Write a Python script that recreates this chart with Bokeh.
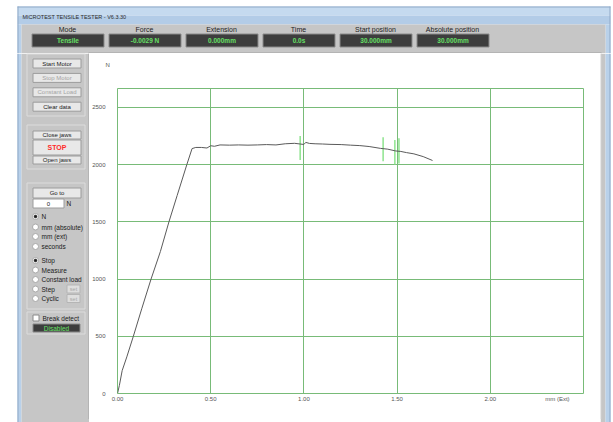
from bokeh.plotting import figure
from bokeh.layouts import column, row
from bokeh.models import Range1d, FixedTicker
from bokeh.core.properties import value
from bokeh.embed import file_html
from bokeh.resources import INLINE

# ---------------- data ----------------
ext_mm = [0.0, 0.01, 0.025, 0.05, 0.085, 0.13, 0.18, 0.23, 0.276, 0.32, 0.372, 0.40,
          0.42, 0.45, 0.48, 0.50, 0.52, 0.55, 0.60, 0.65, 0.70, 0.75, 0.80, 0.85,
          0.90, 0.95, 0.99, 1.00, 1.01, 1.03, 1.06, 1.10, 1.14, 1.20, 1.25, 1.30,
          1.35, 1.41, 1.45, 1.49, 1.50, 1.52, 1.55, 1.59, 1.64, 1.69]
force_n = [0, 70, 200, 320, 500, 740, 1000, 1240, 1500, 1730, 2000, 2140,
           2150, 2150, 2145, 2165, 2160, 2172, 2170, 2172, 2170, 2172, 2175, 2172,
           2182, 2186, 2178, 2176, 2194, 2185, 2182, 2180, 2177, 2175, 2170, 2166,
           2158, 2142, 2135, 2120, 2118, 2115, 2105, 2094, 2070, 2036]
marker_x = [0.98, 1.425, 1.488, 1.51]
marker_lo = [2040, 2030, 2000, 2010]
marker_hi = [2250, 2240, 2215, 2230]

grid_x = [0.5, 1.0, 1.5, 2.0]
grid_y = [500, 1000, 1500, 2000, 2500]
x_ticks = [0, 0.5, 1.0, 1.5, 2.0, 2.36]
x_tick_labels = ["0.00", "0.50", "1.00", "1.50", "2.00", "mm (Ext)"]
y_ticks = [0, 500, 1000, 1500, 2000, 2500]
y_tick_labels = ["0", "500", "1000", "1500", "2000", "2500"]
y_unit = "N"

window_title = "MICROTEST TENSILE TESTER - V6.3.30"
header_labels = ["Mode", "Force", "Extension", "Time", "Start position", "Absolute position"]
header_values = ["Tensile", "-0.0029 N", "0.000mm", "0.0s", "30.000mm", "30.000mm"]
motor_buttons = ["Start Motor", "Stop Motor", "Constant Load", "Clear data"]
motor_enabled = [True, False, False, True]
jaw_buttons = ["Close jaws", "STOP", "Open jaws"]
unit_options = ["N", "mm (absolute)", "mm (ext)", "seconds"]
mode_options = ["Stop", "Measure", "Constant load", "Step", "Cyclic"]

# ---------------- styles ----------------
FONT = "Liberation Sans"
GREEN = "#78bb78"
GRAY = "#c6c6c6"
BLUE = "#b9d1ea"
BTN = "#e8e8e8"
BTN_EDGE = "#9c9c9c"
GROUP_EDGE = "#dcdcdc"
LCD = "#3d3d3d"
LCD_TEXT = "#66e066"


def no_align(f):
    try:
        f.frame_align = False
    except Exception:
        pass


def chrome(w, h, x0, x1, y0, y1):
    f = figure(width=w, height=h, x_range=Range1d(x0, x1), y_range=Range1d(y1, y0),
               output_backend="svg", toolbar_location=None,
               x_axis_location=None, y_axis_location=None,
               min_border=0, min_border_left=0, min_border_right=0,
               min_border_top=0, min_border_bottom=0)
    f.outline_line_color = None
    f.background_fill_color = "white"
    f.border_fill_color = "white"
    f.grid.visible = False
    no_align(f)
    return f


def rect(f, l, t, r, b, fill=None, line=None, lw=1):
    f.quad(left=[l], right=[r], top=[t], bottom=[b],
           fill_color=fill, fill_alpha=1 if fill else 0,
           line_color=line, line_alpha=1 if line else 0, line_width=lw)


def txt(f, x, y, s, size="6.5px", color="#1a1a1a", align="left", bold=False):
    f.text(x=[x], y=[y], text=[s], text_font=value(FONT), text_font_size=value(size),
           text_color=color, text_align=align, text_baseline="middle",
           text_font_style="bold" if bold else "normal")


def hline(f, x0, x1, y, color, lw=1):
    f.segment(x0=[x0], y0=[y], x1=[x1], y1=[y], line_color=color, line_width=lw)


def vline(f, x, y0, y1, color, lw=1):
    f.segment(x0=[x], y0=[y0], x1=[x], y1=[y1], line_color=color, line_width=lw)


# ---------------- header (window title + readouts) ----------------
hdr = chrome(613, 53, 0, 613, 0, 53)
rect(hdr, 17, 6, 610, 15, fill="#c5daef")
rect(hdr, 17, 15, 610, 24, fill="#b3cce7")
hline(hdr, 17, 610, 6.5, "#8fa9c7")
rect(hdr, 17, 24, 21, 53, fill=BLUE)
vline(hdr, 17.5, 6, 53, "#8fa9c7")
rect(hdr, 605, 24, 610, 53, fill=BLUE)
vline(hdr, 609.5, 6, 53, "#8fa9c7")
rect(hdr, 21, 24, 605, 53, fill=GRAY)
hline(hdr, 88, 601, 52.5, "#a2a2a2")
txt(hdr, 22, 16, window_title, size="5.5px", color="#2a2a2a")
for i, (lab, val) in enumerate(zip(header_labels, header_values)):
    x0 = 31 + 77 * i
    txt(hdr, x0 + 36, 28.5, lab, size="7px", color="#1e1e1e", align="center")
    rect(hdr, x0 + 0.5, 33.5, x0 + 72.5, 46.5, fill=LCD, line="#8a8a8a")
    txt(hdr, x0 + 36.5, 40, val, size="6.5px", color=LCD_TEXT, align="center", bold=True)

# ---------------- left control panel ----------------
lp = chrome(89, 369, 0, 89, 53, 422)
rect(lp, 17, 53, 21, 422, fill=BLUE)
vline(lp, 17.5, 53, 422, "#8fa9c7")
rect(lp, 21, 53, 89, 422, fill=GRAY)
vline(lp, 88.5, 52.5, 418.5, "#a2a2a2")

rect(lp, 26.5, 53.5, 84.5, 115.5, line=GROUP_EDGE)
for i, (lab, en) in enumerate(zip(motor_buttons, motor_enabled)):
    t = 58 + 14.4 * i
    rect(lp, 32.5, t + 0.5, 80.5, t + 9.5, fill=BTN, line=BTN_EDGE)
    txt(lp, 56.5, t + 5, lab, size="6px", color="#1a1a1a" if en else "#a4a4a4", align="center")

rect(lp, 26.5, 124.5, 84.5, 168.5, line=GROUP_EDGE)
rect(lp, 32.5, 130.5, 80.5, 138.5, fill=BTN, line=BTN_EDGE)
txt(lp, 56.5, 134.5, jaw_buttons[0], size="6px", align="center")
rect(lp, 32.5, 139.5, 80.5, 154.5, fill=BTN, line=BTN_EDGE)
txt(lp, 56.5, 147, jaw_buttons[1], size="7px", color="#ff2a2a", align="center", bold=True)
rect(lp, 32.5, 155.5, 80.5, 163.5, fill=BTN, line=BTN_EDGE)
txt(lp, 56.5, 159.5, jaw_buttons[2], size="6px", align="center")

rect(lp, 26.5, 182.5, 84.5, 308.5, line=GROUP_EDGE)
rect(lp, 32.5, 187.5, 80.5, 197.5, fill=BTN, line=BTN_EDGE)
txt(lp, 56.5, 192.5, "Go to", size="6px", align="center")
rect(lp, 32.5, 198.5, 63.5, 207.5, fill="white", line=BTN_EDGE)
txt(lp, 48, 203, "0", size="6px", align="center")
txt(lp, 66, 203, "N", size="6.5px")

unit_y = [216, 226.5, 236, 246]
mode_y = [260, 269.5, 279, 288.5, 298]
for opts, ys in ((unit_options, unit_y), (mode_options, mode_y)):
    lp.scatter(x=[35] * len(ys), y=ys, size=6, marker="circle",
               fill_color="white", line_color="#a8a8a8", line_width=1)
    lp.scatter(x=[35], y=[ys[0]], size=2.5, marker="circle",
               fill_color="#1a1a1a", line_color="#1a1a1a")
    for lab, yy in zip(opts, ys):
        txt(lp, 41, yy, lab, size="6.5px")
for yy in (mode_y[3], mode_y[4]):
    rect(lp, 66.5, yy - 4, 79.5, yy + 4, fill="#dedede", line="#b5b5b5")
    txt(lp, 73, yy, "set", size="5.5px", color="#a8a8a8", align="center")

rect(lp, 26.5, 311.5, 84.5, 333.5, line=GROUP_EDGE)
rect(lp, 32.5, 314.5, 38.5, 320.5, fill="white", line="#8a8a8a")
txt(lp, 42, 317.5, "Break detect", size="6.5px")
rect(lp, 32.5, 323.5, 79.5, 331.5, fill=LCD, line="#8a8a8a")
txt(lp, 56, 327.5, "Disabled", size="6.5px", color=LCD_TEXT, align="center")

# ---------------- right window edge ----------------
rs = chrome(13, 369, 600, 613, 53, 422)
rect(rs, 600, 53, 605, 422, fill=GRAY)
vline(rs, 600.5, 52.5, 418.5, "#d0d0d0")
rect(rs, 605, 53, 610, 422, fill=BLUE)
vline(rs, 609.5, 53, 422, "#8fa9c7")

# ---------------- strip above the chart (unit label) ----------------
top = chrome(511, 27, 89, 600, 53, 80)
txt(top, 105, 64, y_unit, size="6px", color="#555555")

# ---------------- strip below the chart (window body) ----------------
bot = chrome(511, 4, 89, 600, 418, 422)
rect(bot, 89, 418, 600, 422, fill=GRAY)
hline(bot, 89, 600, 418.5, "#d0d0d0")

# ---------------- chart ----------------
p = figure(width=511, height=338, x_range=Range1d(0, 2.5), y_range=Range1d(0, 2665),
           output_backend="svg", toolbar_location=None,
           min_border_left=28, min_border_right=17, min_border_top=8, min_border_bottom=25)
no_align(p)
p.border_fill_color = "white"
p.background_fill_color = "white"
p.outline_line_color = GREEN
p.outline_line_width = 1

for ax in (p.xaxis[0], p.yaxis[0]):
    ax.axis_line_color = None
    ax.major_tick_line_color = None
    ax.minor_tick_line_color = None
    ax.major_tick_out = 0
    ax.major_tick_in = 0
    ax.minor_tick_out = 0
    ax.minor_tick_in = 0
    ax.major_label_text_font = FONT
    ax.major_label_text_font_size = "6px"
    ax.major_label_text_color = "#555555"

p.xaxis.ticker = FixedTicker(ticks=x_ticks)
p.xaxis.major_label_overrides = dict(zip(x_ticks, x_tick_labels))
p.xaxis.major_label_standoff = 2
p.yaxis.ticker = FixedTicker(ticks=y_ticks)
p.yaxis.major_label_overrides = dict(zip(y_ticks, y_tick_labels))
p.yaxis.major_label_standoff = 12

p.xgrid.ticker = FixedTicker(ticks=grid_x)
p.ygrid.ticker = FixedTicker(ticks=grid_y)
for g in (p.xgrid[0], p.ygrid[0]):
    g.grid_line_color = GREEN
    g.grid_line_alpha = 1
    g.grid_line_width = 1

p.segment(x0=marker_x, y0=marker_lo, x1=marker_x, y1=marker_hi,
          line_color="#8ee48e", line_width=1.5)
p.line(ext_mm, force_n, line_color="#5a5a5a", line_width=1)

layout = column(hdr, row(lp, column(top, p, bot, spacing=0), rs, spacing=0), spacing=0)
open("out.html", "w").write(file_html(layout, INLINE))
